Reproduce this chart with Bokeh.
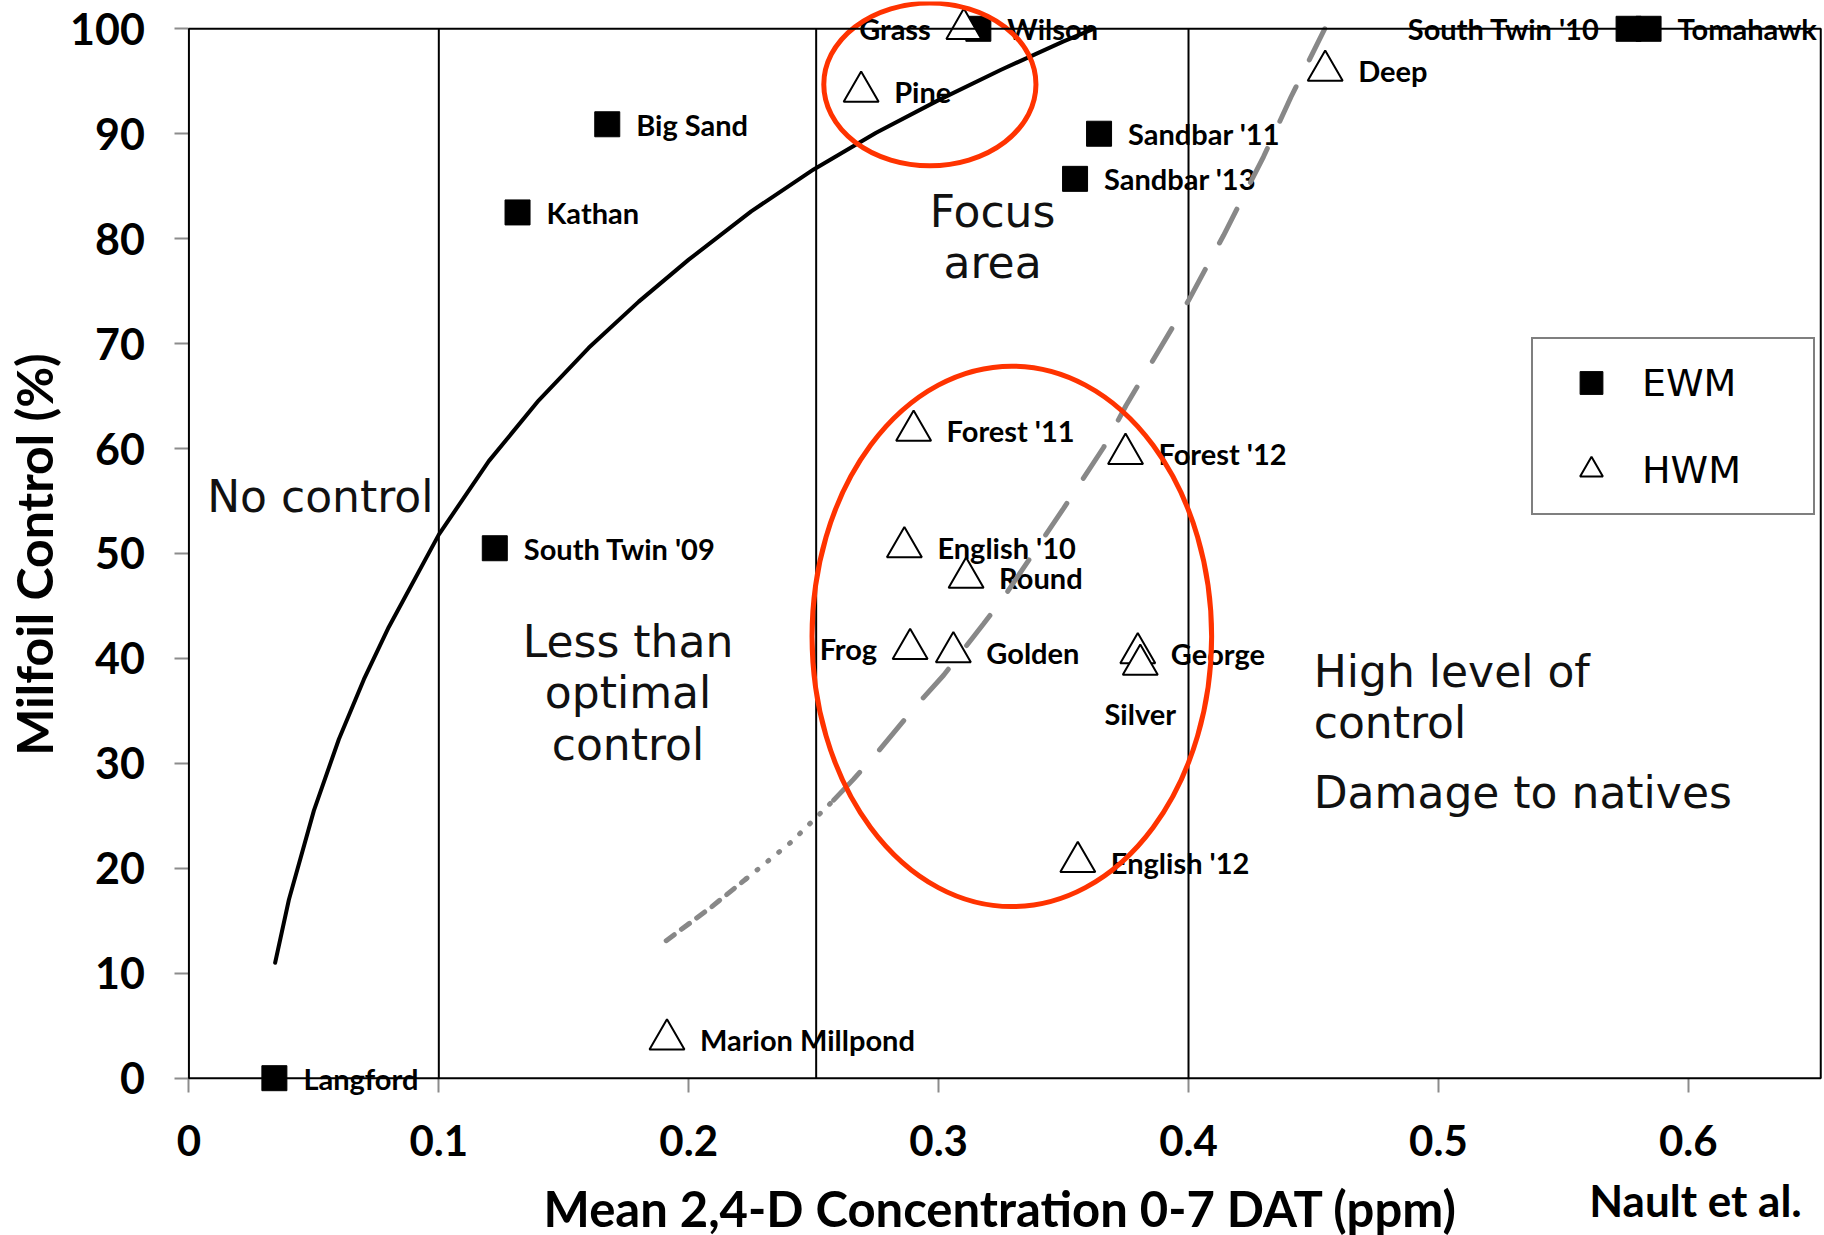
import math
from bokeh.plotting import figure
from bokeh.models import (Range1d, FixedTicker, BoxAnnotation, Label, Legend,
                          LegendItem, ColumnDataSource)
from bokeh.core.properties import value
from bokeh.embed import file_html
from bokeh.resources import INLINE

# ---------------- data ----------------
ewm_names = ["Langford", "South Twin '09", "Kathan", "Big Sand", "Wilson",
             "Sandbar '11", "Sandbar '13", "South Twin '10", "Tomahawk"]
ewm_conc = [0.0342, 0.1224, 0.1315, 0.1674, 0.3159, 0.3642, 0.3546, 0.5761, 0.5841]
ewm_control = [0.0, 50.5, 82.5, 90.9, 100.0, 90.0, 85.7, 100.0, 100.0]

hwm_names = ["Grass", "Pine", "Deep", "Forest '11", "Forest '12", "English '10",
             "Round", "Frog", "Golden", "George", "Silver", "English '12",
             "Marion Millpond"]
hwm_conc = [0.3101, 0.2690, 0.4547, 0.2900, 0.3748, 0.2863, 0.3110, 0.2886,
            0.3059, 0.3797, 0.3807, 0.3557, 0.1913]
hwm_control = [100.0, 94.0, 96.0, 61.7, 59.5, 50.6, 47.7, 40.9, 40.6, 40.5,
               39.4, 20.6, 3.7]

# solid trend curve (EWM)
fit_conc = [0.0345, 0.04, 0.05, 0.06, 0.07, 0.08, 0.10, 0.12, 0.14, 0.16, 0.18,
            0.20, 0.225, 0.25, 0.275, 0.30, 0.325, 0.35, 0.362]
fit_control = [11.0, 17.0, 25.5, 32.3, 38.0, 43.0, 51.8, 58.8, 64.6, 69.6, 74.0,
               78.0, 82.6, 86.6, 90.1, 93.2, 96.1, 98.8, 100.0]

# grey dashed curve (HWM)
hwm_curve_conc = [0.191, 0.209, 0.223, 0.241, 0.258, 0.266, 0.275, 0.291, 0.302,
                  0.318, 0.326, 0.350, 0.366, 0.375, 0.400, 0.414, 0.430, 0.441,
                  0.4545]
hwm_curve_control = [13.1, 16.3, 19.0, 22.5, 26.5, 28.5, 30.9, 35.5, 38.4, 43.3,
                     45.8, 54.3, 60.1, 64.1, 74.1, 80.3, 87.8, 93.5, 100.0]

zone_bounds = [0.1, 0.251, 0.4]

# highlighted ellipses: centre x, centre y, width, height (data units)
ellipse_x = [0.2965, 0.3293]
ellipse_y = [94.7, 42.1]
ellipse_w = [0.0849, 0.1599]
ellipse_h = [15.5, 51.5]

x_ticks = [0, 0.1, 0.2, 0.3, 0.4, 0.5, 0.6]
x_tick_labels = ["0", "0.1", "0.2", "0.3", "0.4", "0.5", "0.6"]
y_ticks = [0, 10, 20, 30, 40, 50, 60, 70, 80, 90, 100]

X_BOX_MAX = 0.653            # right edge of the chart box
X_MIN, X_MAX = -0.0754, 0.6545   # frame spans the whole canvas
Y_MIN, Y_MAX = -14.99, 102.6

# ---------------- figure ----------------
p = figure(frame_width=1824, frame_height=1234,
           x_range=Range1d(X_MIN, X_MAX), y_range=Range1d(Y_MIN, Y_MAX),
           output_backend="svg", toolbar_location=None, title=None,
           min_border_left=0, min_border_right=0, min_border_top=1,
           min_border_bottom=0, background_fill_color="white",
           border_fill_color="white", outline_line_color=None)
p.xgrid.visible = False
p.ygrid.visible = False

TICK_FONT = "Lato"

xa = p.xaxis[0]
xa.fixed_location = 0
xa.ticker = FixedTicker(ticks=x_ticks)
xa.major_label_overrides = dict(zip(x_ticks, x_tick_labels))
xa.axis_line_color = None
xa.major_tick_line_color = "#8c8c8c"
xa.major_tick_line_width = 2
xa.major_tick_out = 14
xa.major_tick_in = 0
xa.minor_tick_line_color = None
xa.major_label_standoff = 33
xa.major_label_text_font = TICK_FONT
xa.major_label_text_font_style = "bold"
xa.major_label_text_font_size = "42px"
xa.major_label_text_color = "black"

ya = p.yaxis[0]
ya.fixed_location = 0
ya.ticker = FixedTicker(ticks=y_ticks)
ya.axis_line_color = None
ya.major_tick_line_color = "#8c8c8c"
ya.major_tick_line_width = 2
ya.major_tick_out = 14
ya.major_tick_in = 0
ya.minor_tick_line_color = None
ya.major_label_standoff = 30
ya.major_label_text_font = TICK_FONT
ya.major_label_text_font_style = "bold"
ya.major_label_text_font_size = "43px"
ya.major_label_text_color = "black"

# ---------------- zone texts ----------------
ZONE_FONT = "DejaVu Sans"
zone_lines = [
    ("No control", 0.0073, 55.4, "left"),
    ("Less than", 0.1757, 41.6, "center"),
    ("optimal", 0.1757, 36.8, "center"),
    ("control", 0.1757, 31.8, "center"),
    ("Focus", 0.3216, 82.6, "center"),
    ("area", 0.3216, 77.7, "center"),
    ("High level of", 0.4501, 38.8, "left"),
    ("control", 0.4501, 33.9, "left"),
    ("Damage to natives", 0.4501, 27.2, "left"),
]
for t, zx, zy, al in zone_lines:
    p.text(x=[zx], y=[zy], text=[t], text_font=value(ZONE_FONT),
           text_font_size="44px", text_color="#111111", text_align=al,
           text_baseline="middle")

# ---------------- point labels ----------------
LABEL_FONT = "Lato"
left_side = {"Grass", "Frog", "South Twin '10"}
below = {"Silver"}


def add_labels(names, xs, ys, dx):
    groups = {"right": ([], [], []), "left": ([], [], []), "below": ([], [], [])}
    for n, xv, yv in zip(names, xs, ys):
        key = "left" if n in left_side else ("below" if n in below else "right")
        groups[key][0].append(xv)
        groups[key][1].append(yv)
        groups[key][2].append(n)
    common = dict(text_font=value(LABEL_FONT), text_font_style="bold",
                  text_font_size="29px", text_color="black",
                  text_baseline="middle")
    gx, gy, gt = groups["right"]
    if gt:
        p.text(x=gx, y=gy, text=gt, text_align="left", x_offset=dx, **common)
    gx, gy, gt = groups["left"]
    if gt:
        p.text(x=gx, y=gy, text=gt, text_align="right", x_offset=-dx, **common)
    gx, gy, gt = groups["below"]
    if gt:
        p.text(x=gx, y=gy, text=gt, text_align="center", y_offset=49, **common)


add_labels(ewm_names, ewm_conc, ewm_control, 29)
add_labels(hwm_names, hwm_conc, hwm_control, 33)

# ---------------- markers ----------------
ewm_src = ColumnDataSource(dict(x=ewm_conc, y=ewm_control, name=ewm_names))
hwm_src = ColumnDataSource(dict(x=hwm_conc, y=hwm_control, name=hwm_names))
sq = p.scatter("x", "y", source=ewm_src, marker="square", size=25,
               fill_color="black", line_color="black", line_width=1)
tri = p.scatter("x", "y", source=hwm_src, marker="triangle", size=35,
                fill_color="white", line_color="black", line_width=2)

# ---------------- zone boundaries ----------------
p.segment(x0=zone_bounds, y0=[0] * len(zone_bounds), x1=zone_bounds,
          y1=[100] * len(zone_bounds), line_color="black", line_width=2)

# ---------------- curves ----------------
p.line(fit_conc, fit_control, line_color="black", line_width=4, line_cap="round")

GREY = "#888888"
p.line(hwm_curve_conc[0:3], hwm_curve_control[0:3], line_color=GREY,
       line_width=5, line_dash="10 9", line_cap="round")
p.line(hwm_curve_conc[2:5], hwm_curve_control[2:5], line_color=GREY,
       line_width=5, line_dash="1 13", line_cap="round")
p.line(hwm_curve_conc[4:], hwm_curve_control[4:], line_color=GREY,
       line_width=5, line_dash="38 30", line_cap="round")

# ---------------- highlight ellipses ----------------
p.ellipse(x=ellipse_x, y=ellipse_y, width=ellipse_w, height=ellipse_h,
          fill_alpha=0, line_color="#ff3300", line_width=5)

# ---------------- chart box ----------------
p.add_layout(BoxAnnotation(left=0, right=X_BOX_MAX, bottom=0, top=100,
                           fill_alpha=0, line_color="black", line_width=2,
                           line_alpha=1))

# ---------------- legend ----------------
legend = Legend(items=[LegendItem(label="EWM", renderers=[sq]),
                       LegendItem(label="HWM", renderers=[tri])],
                location=(1531, 720), orientation="vertical", margin=0,
                padding=15, spacing=30, glyph_width=86, glyph_height=57,
                label_height=57, label_width=156, label_standoff=8,
                label_text_font=ZONE_FONT, label_text_font_size="38px",
                label_text_color="black",
                border_line_color="black", border_line_width=2,
                background_fill_color="white", background_fill_alpha=1)
p.add_layout(legend)

# ---------------- axis titles and credit ----------------
p.add_layout(Label(x=33, y=681, x_units="screen", y_units="screen",
                   angle=math.pi / 2, text="Milfoil Control (%)",
                   text_font=TICK_FONT, text_font_style="bold",
                   text_font_size="50px", text_color="black",
                   text_align="center", text_baseline="middle"))
p.add_layout(Label(x=1000, y=28, x_units="screen", y_units="screen",
                   text="Mean 2,4-D Concentration 0-7 DAT (ppm)",
                   text_font=TICK_FONT, text_font_style="bold",
                   text_font_size="49px", text_color="black",
                   text_align="center", text_baseline="middle"))
p.add_layout(Label(x=1695, y=36, x_units="screen", y_units="screen",
                   text="Nault et al.", text_font=TICK_FONT,
                   text_font_style="bold", text_font_size="44px",
                   text_color="black", text_align="center",
                   text_baseline="middle"))

open("out.html", "w").write(file_html(p, INLINE))
